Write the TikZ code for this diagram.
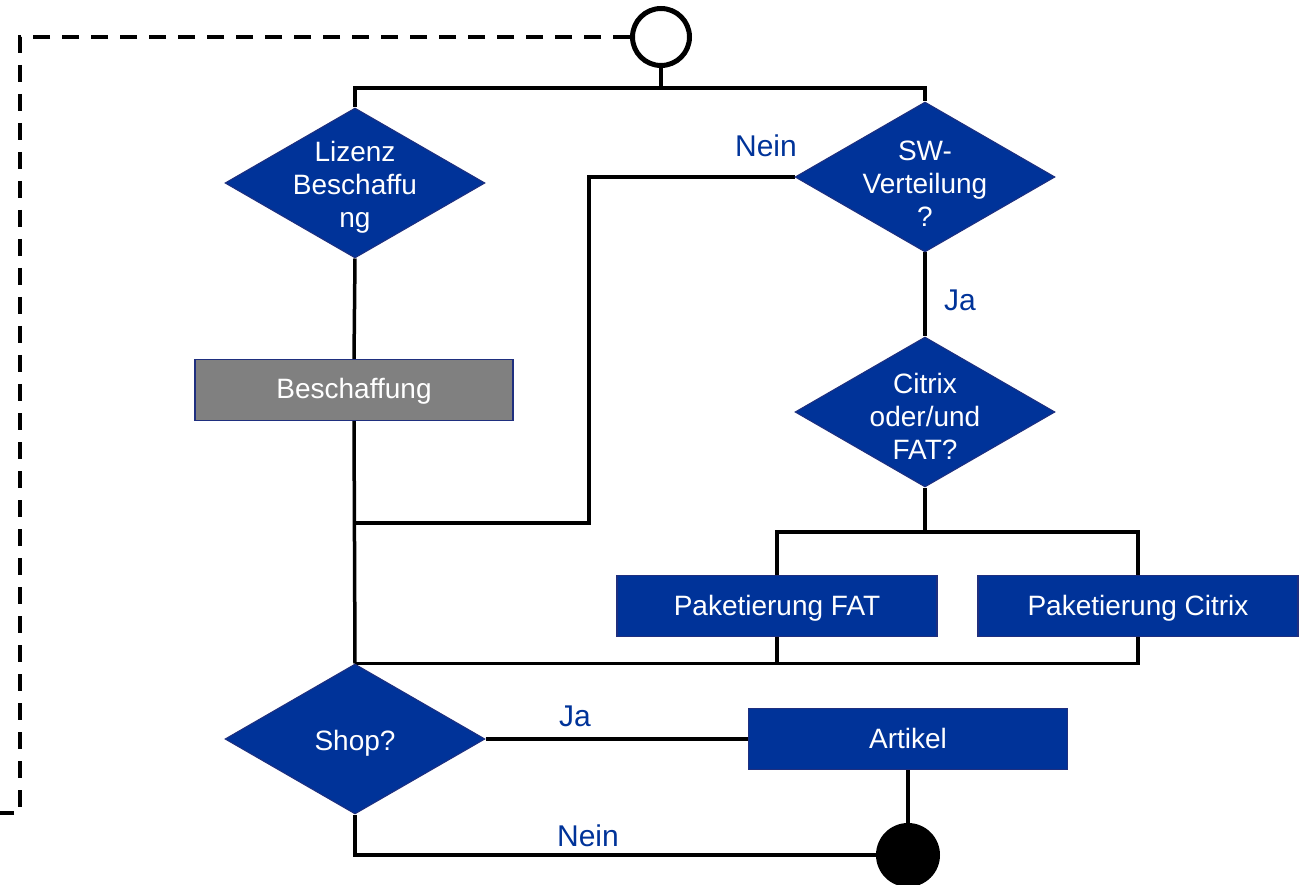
\documentclass[tikz,border=0pt]{standalone}
\usepackage{fontspec}
\setmainfont{Liberation Sans}
\usetikzlibrary{shapes.geometric, positioning, calc, backgrounds}
\definecolor{dblue}{HTML}{003399}
\definecolor{dborder}{HTML}{1F2F7F}

\begin{document}
\begin{tikzpicture}[x=1pt, y=-1pt,
    decision/.style={diamond, draw=dborder, line width=1pt, fill=dblue, minimum width=260pt, minimum height=150pt, inner sep=0pt},
    dtext/.style={text=white, align=center, yshift=-4pt, font=\fontsize{28}{33}\selectfont},
    taskbox/.style={rectangle, draw=dborder, line width=1.2pt, fill=dblue, text=white, minimum width=320pt, minimum height=61pt, text height=18pt, text depth=0pt, font=\fontsize{28}{33}\selectfont},
    lbl/.style={text=dblue, font=\fontsize{30}{36}\selectfont},
    flow/.style={line width=3.5pt}]
            \useasboundingbox (0,0) rectangle (1307,885);
            % start / stop
            \node[circle, draw, line width=5pt, fill=white, minimum size=57pt] (start) at (661,37) {};
            \node[circle, fill=black, minimum size=64pt] (stop) at (908,855) {};
            % decisions
            \node[decision] (lizenz) at (355,183) {};
            \node[dtext] (lizenztxt) at (lizenz) {Lizenz\\Beschaffu\\ng};
            \node[decision] (swv) at (925,177) {};
            \node[dtext] (swvtxt) at ($(swv)+(0,3)$) {SW-\\Verteilung\\?};
            \node[decision] (citrix) at (925,412) {};
            \node[dtext] (citrixtxt) at (citrix) {Citrix\\oder/und\\FAT?};
            \node[decision] (shop) at (355,739) {};
            \node[dtext] (shoptxt) at (shop) {Shop?};
            % tasks
            \node[taskbox, fill=gray, minimum width=318pt] (beschaffung) at (354,390) {Beschaffung};
            \node[taskbox] (fat) at (777,606) {Paketierung FAT};
            \node[taskbox] (pcitrix) at (1138,606) {Paketierung Citrix};
            \node[taskbox, minimum width=319pt] (artikel) at (908,739) {Artikel};
            % helper points
            \coordinate (split) at (661,88);
            \coordinate (bend) at (589,523);
            \coordinate (join) at (355,523);
            \coordinate (fork) at (925,532);
            \coordinate (loopend) at (20,813);
            \coordinate (loopstub) at (0,813);
            % connectors
            \begin{scope}[on background layer]
            \draw[flow] (start) -- (split);
            \draw[flow] (lizenz.north) |- (split) -| (swv.north);
            \draw[flow] (swv.west) -| (bend) -- (join);
            \draw[flow] (lizenz.south) -- (beschaffung.north);
            \draw[flow] (beschaffung.south) -- (shop.north);
            \draw[flow] (swv.south) -- (citrix.north);
            \draw[flow] (citrix.south) -- (fork);
            \draw[flow] (fat.north) |- (fork) -| (pcitrix.north);
            \draw[flow] (pcitrix.south) |- (shop.north);
            \draw[flow] (fat.south) -- (fat.south |- shop.north);
            \draw[flow] (shop.east) -- (artikel.west);
            \draw[flow] (artikel.south) -- (stop.north);
            \draw[flow] (shop.south) |- (stop.west);
            \draw[line width=4pt, dash pattern=on 17pt off 12pt] (start.west) -| (loopend) -- (loopstub);
            \end{scope}
            % labels
            \node[lbl] (neinswv) at (766,146) {Nein};
            \node[lbl] (jaswv) at (960,300) {Ja};
            \node[lbl] (jashop) at (575,716) {Ja};
            \node[lbl] (neinshop) at (588,836) {Nein};
\end{tikzpicture}
\end{document}
